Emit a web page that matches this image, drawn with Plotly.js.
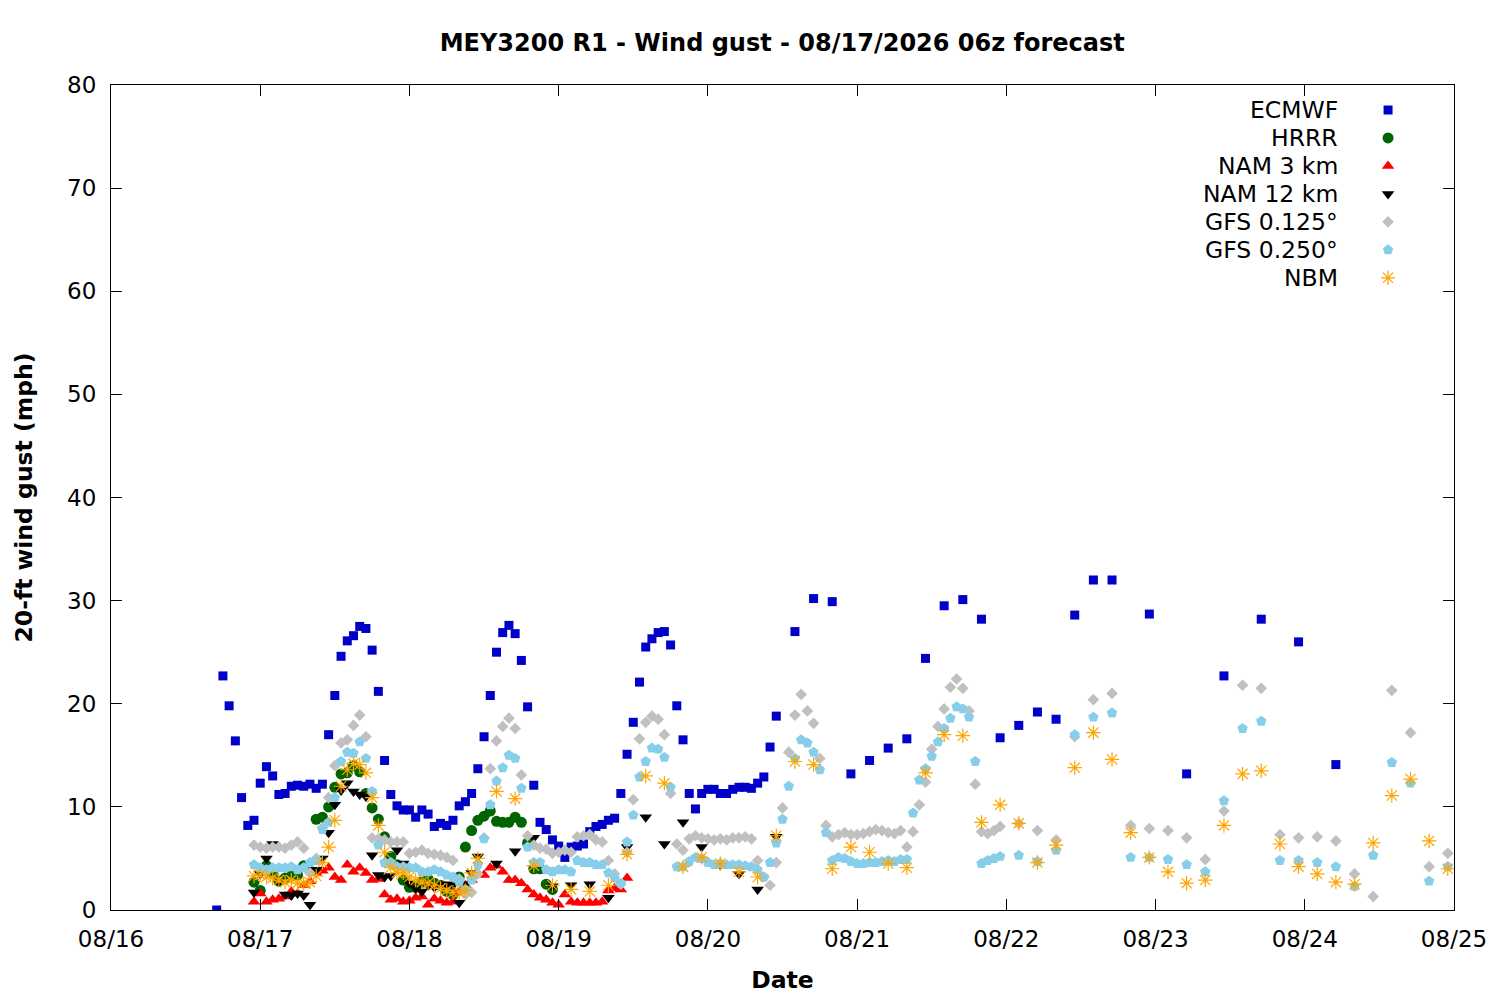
<!DOCTYPE html>
<html>
<head>
<meta charset="utf-8">
<script src="https://cdn.plot.ly/plotly-3.0.1.min.js"></script>
<style>
  body { margin: 0; background: #fff; }
  #chart { width: 1500px; height: 1000px; }
</style>
</head>
<body>
<div id="chart"></div>
<script>
// forecast hours are counted from 08/16 00:00
var baseDay = Date.UTC(2026, 7, 16);

var ecmwfHours = [17,18,19,20,21,22,23,24,25,26,27,28,29,30,31,32,33,34,35,36,37,38,39,40,41,42,43,44,45,46,
  47,48,49,50,51,52,53,54,55,56,57,58,59,60,61,62,63,64,65,66,67,68,69,70,71,72,73,74,75,76,
  77,78,79,80,81,82,83,84,85,86,87,88,89,90,91,92,93,94,95,96,97,98,99,100,101,102,103,104,105,106,107,
  110,113,116,119,122,125,128,131,134,137,140,143,146,149,152,155,158,161,167,173,179,185,191,197];
var ecmwfGust = [0,22.7,19.8,16.4,10.9,8.2,8.7,12.3,13.9,13.0,11.2,11.3,12.0,12.1,12.0,12.2,11.8,12.2,17.0,20.8,
  24.6,26.1,26.6,27.5,27.3,25.2,21.2,14.5,11.2,10.1,9.7,9.7,9.0,9.7,9.3,8.1,8.4,8.2,8.7,10.1,
  10.5,11.3,13.7,16.8,20.8,25.0,26.9,27.6,26.8,24.2,19.7,12.1,8.5,7.8,6.8,6.2,5.1,6.1,6.2,6.4,
  7.6,8.1,8.3,8.7,8.9,11.3,15.1,18.2,22.1,25.5,26.3,26.9,27.0,25.7,19.8,16.5,11.3,9.8,11.3,11.7,
  11.7,11.3,11.3,11.7,11.9,11.9,11.8,12.3,12.9,15.8,18.8,
  27.0,30.2,29.9,13.2,14.5,15.7,16.6,24.4,29.5,30.1,28.2,16.7,17.9,19.2,18.5,28.6,32.0,32.0,
  28.7,13.2,22.7,28.2,26.0,14.1];

var hrrrHours = [23,24,25,26,27,28,29,30,31,32,33,34,35,36,37,38,39,40,41,42,43,44,45,46,47,48,49,50,51,52,
  53,54,55,56,57,58,59,60,61,62,63,64,65,66,67,68,69,70,71];
var hrrrGust = [2.7,1.9,4.3,3.6,2.8,3.1,3.3,3.4,4.3,3.8,8.8,9.0,10.0,11.9,13.2,13.3,14.0,13.4,11.3,9.9,
  8.8,7.1,5.2,4.4,2.9,2.2,2.2,2.7,3.0,2.6,2.4,1.8,1.5,3.2,6.1,7.7,8.7,9.1,9.6,8.6,
  8.5,8.5,9.0,8.5,6.5,4.0,4.0,2.5,2.0];

var nam3Hours = [23,24,25,26,27,28,29,30,31,32,33,34,35,36,37,38,39,40,41,42,43,44,45,46,47,48,49,50,51,52,
  53,54,55,56,57,58,59,60,61,62,63,64,65,66,67,68,69,70,71,72,73,74,75,76,77,78,79,80,81,82,83];
var nam3Gust = [0.8,1.6,0.8,1.0,1.1,1.3,1.8,1.6,2.4,2.8,3.6,3.8,4.1,3.2,2.9,4.4,3.7,4.1,3.6,2.9,
  3.0,1.5,1.0,1.1,0.8,0.9,1.2,1.3,0.5,1.1,0.9,0.7,0.8,1.7,2.4,2.9,3.6,3.4,4.1,4.3,
  3.7,2.9,2.9,2.6,2.0,1.5,1.2,1.0,0.7,0.5,1.5,0.8,0.7,0.7,0.7,0.7,0.8,1.9,2.1,2.0,3.1];

var nam12Hours = [23,24,25,26,27,28,29,30,31,32,33,34,35,36,37,38,39,40,41,42,43,44,45,46,47,48,49,50,51,52,
  53,54,55,56,57,58,59,62,65,68,71,74,77,80,83,86,89,92,95,98,101,104,107];
var nam12Gust = [1.7,3.5,5.0,6.4,2.8,1.5,1.4,1.6,1.4,0.5,3.9,5.0,7.5,10.2,11.6,12.3,11.5,11.2,11.0,5.3,
  3.4,3.2,3.3,5.8,4.5,2.6,2.1,1.8,2.4,2.2,2.4,2.5,2.4,0.7,2.5,3.6,5.2,
  4.5,5.7,7.0,2.3,2.4,2.5,1.2,6.1,9.0,6.4,8.5,6.1,4.4,3.5,2.0,7.1];

var gfsHours = [23,24,25,26,27,28,29,30,31,32,33,34,35,36,37,38,39,40,41,42,43,44,45,46,47,48,49,50,51,52,
  53,54,55,56,57,58,59,60,61,62,63,64,65,66,67,68,69,70,71,72,73,74,75,76,77,78,79,80,81,82,
  83,84,85,86,87,88,89,90,91,92,93,94,95,96,97,98,99,100,101,102,103,104,105,106,107,108,109,110,111,112,
  113,114,115,116,117,118,119,120,121,122,123,124,125,126,127,128,129,130,131,132,133,134,135,136,137,138,139,140,141,142,143,
  146,149,152,155,158,161,164,167,170,173,176,179,182,185,188,191,194,197,200,203,206,209,212,215];
var gfs125Gust = [6.3,6.1,6.0,6.1,6.1,6.0,6.3,6.6,6.0,3.6,5.0,8.0,10.9,14.0,16.2,16.5,17.9,18.9,16.8,7.0,
  6.9,6.8,6.6,6.6,6.6,5.5,5.6,5.8,5.5,5.4,5.3,5.1,4.8,3.0,1.5,1.7,3.5,7.0,13.7,16.4,
  17.8,18.6,17.6,13.1,7.2,6.3,6.0,5.9,5.5,5.6,5.8,5.6,7.1,7.2,7.3,6.8,6.6,4.8,3.5,2.5,
  5.6,10.7,16.6,18.2,18.8,18.5,17.0,11.3,6.4,5.8,6.9,7.2,7.0,6.9,6.8,6.9,6.8,7.0,7.0,7.1,
  6.9,4.8,3.2,2.4,4.6,9.9,15.3,18.9,20.9,19.3,18.1,14.7,8.2,7.1,7.3,7.5,7.3,7.3,7.4,7.6,
  7.8,7.7,7.5,7.4,7.7,6.1,7.6,10.2,12.4,15.6,17.8,19.5,21.6,22.4,21.5,19.3,12.2,7.6,7.4,7.7,8.1,
  8.4,7.7,6.8,16.8,20.4,21.0,8.2,7.9,7.7,7.0,4.9,9.6,21.8,21.5,7.3,7.0,7.1,6.7,3.5,1.3,21.3,17.2,4.2,5.5];
var gfs250Gust = [4.4,4.1,3.9,4.1,4.1,4.1,4.2,3.9,4.1,4.6,4.8,7.8,8.5,10.9,14.4,15.3,15.2,16.3,14.7,11.5,
  6.3,4.6,4.6,4.2,4.2,4.1,4.1,3.7,3.7,3.9,3.7,3.4,3.2,2.7,2.0,2.9,4.4,6.9,10.2,12.5,
  13.8,15.0,14.7,11.8,6.1,4.6,4.6,3.9,3.7,3.9,3.9,3.7,4.8,4.6,4.6,4.4,4.4,3.6,3.1,2.6,
  6.6,9.2,12.9,14.4,15.7,15.6,14.8,11.9,4.2,4.2,4.7,5.1,5.0,4.6,4.4,4.5,4.4,4.4,4.4,4.3,
  4.2,3.9,3.2,4.6,6.5,8.8,12.0,14.7,16.5,16.2,15.3,13.6,7.5,4.8,5.1,5.0,4.7,4.5,4.5,4.6,
  4.6,4.7,4.8,4.7,4.9,4.9,9.4,12.6,13.7,14.9,16.3,17.6,18.6,19.7,19.5,18.7,14.4,4.5,4.8,5.0,5.2,
  5.3,4.7,5.8,17.0,18.7,19.1,5.1,5.1,4.9,4.4,3.7,10.6,17.6,18.3,4.8,4.8,4.6,4.2,2.3,5.3,14.3,12.3,2.8,4.2];

var nbmHours = [23,24,25,26,27,28,29,30,31,32,33,34,35,36,37,38,39,40,41,42,43,44,45,46,47,48,49,50,51,52,
  53,54,55,56,57,58,59,62,65,68,71,74,77,80,83,86,89,92,95,98,101,104,107,110,113,116,119,122,125,128,
  131,134,137,140,143,146,149,152,155,158,161,164,167,170,173,176,179,182,185,188,191,194,197,200,203,206,209,212,215];
var nbmGust = [3.3,3.4,3.2,3.1,2.9,2.7,2.9,2.6,2.6,2.7,3.3,4.6,6.1,8.7,12.0,13.6,14.2,14.1,13.3,10.9,
  8.2,5.6,4.1,3.6,3.6,3.2,2.9,2.7,2.6,2.4,2.1,1.9,1.7,1.7,1.9,3.6,5.0,
  11.5,10.8,4.3,2.4,2.0,1.8,2.4,5.4,13.0,12.3,4.2,5.1,4.5,3.7,3.2,7.2,14.4,14.1,4.0,6.1,5.6,4.5,4.1,
  13.3,17.0,16.9,8.5,10.2,8.4,4.6,6.3,13.8,17.2,14.6,7.5,5.1,3.7,2.6,2.9,8.2,13.2,13.5,6.4,4.2,3.5,2.7,2.5,6.5,11.1,12.7,6.7,4.0];

var modelNames = ['ECMWF', 'HRRR', 'NAM 3 km', 'NAM 12 km', 'GFS 0.125°', 'GFS 0.250°', 'NBM'];
var modelSymbols = ['square', 'circle', 'triangle-up', 'triangle-down', 'diamond', 'pentagon', 'asterisk-open'];
var modelColors = ['#0000c8', '#006400', '#ff0000', '#000000', '#c0c0c0', '#87ceeb', '#ffa500'];
var markerSizes = [9, 11, 11, 11, 9, 11, 12];

function toDate(h) {
  var d = new Date(baseDay + h * 3600000);
  return d.toISOString().slice(0, 16).replace('T', ' ');
}

function markerStyle(i, size) {
  var open = modelSymbols[i] == 'asterisk-open';
  return { symbol: modelSymbols[i], color: modelColors[i], size: size,
           line: { width: open ? 1.2 : 0, color: modelColors[i] } };
}

function series(i, hours, gust) {
  return {
    type: 'scatter', mode: 'markers', name: modelNames[i],
    x: hours.map(toDate), y: gust,
    marker: markerStyle(i, markerSizes[i]),
    hoverinfo: 'skip', showlegend: false
  };
}

var data = [
  series(0, ecmwfHours, ecmwfGust),
  series(1, hrrrHours, hrrrGust),
  series(2, nam3Hours, nam3Gust),
  series(3, nam12Hours, nam12Gust),
  series(4, gfsHours, gfs125Gust),
  series(5, gfsHours, gfs250Gust),
  series(6, nbmHours, nbmGust)
];

// gnuplot style key: right aligned label, sample point to its right
var keyTop = 0.9697, keyStep = 0.0339, keyTextX = 0.9151, keySymX = 0.9509;
var annotations = [];
modelNames.forEach(function (name, i) {
  annotations.push({
    xref: 'paper', yref: 'paper', x: keyTextX, y: keyTop - i * keyStep,
    xanchor: 'right', yanchor: 'middle', showarrow: false, text: name,
    font: { family: 'DejaVu Sans', size: 23.5, color: '#000' }
  });
  data.push({
    type: 'scatter', mode: 'markers', xaxis: 'x2', yaxis: 'y2',
    x: [keySymX], y: [keyTop - i * keyStep],
    marker: markerStyle(i, markerSizes[i]),
    hoverinfo: 'skip', showlegend: false
  });
});

var tickFont = { family: 'DejaVu Sans', size: 23, color: '#000' };

var layout = {
  width: 1500,
  height: 1000,
  margin: { l: 111, r: 46, t: 85, b: 90 },
  paper_bgcolor: '#fff',
  plot_bgcolor: '#fff',
  font: { family: 'DejaVu Sans', color: '#000' },
  title: {
    text: '<b>MEY3200 R1 - Wind gust - 08/17/2026 06z forecast</b>',
    font: { family: 'DejaVu Sans', size: 24 },
    x: 0.5215, xanchor: 'center', y: 0.957, yanchor: 'middle'
  },
  xaxis: {
    type: 'date',
    range: ['2026-08-16', '2026-08-25'],
    tick0: '2026-08-16',
    dtick: 86400000,
    tickformat: '%m/%d',
    ticks: 'inside', ticklen: 11, tickwidth: 1, tickcolor: '#000',
    showline: true, linecolor: '#000', linewidth: 1, mirror: 'ticks',
    showgrid: false, zeroline: false,
    tickfont: tickFont,
    ticklabelstandoff: 8,
    title: { text: '<b>Date</b>', font: { family: 'DejaVu Sans', size: 23.5 }, standoff: 20 }
  },
  yaxis: {
    range: [0, 80],
    dtick: 10,
    ticks: 'inside', ticklen: 11, tickwidth: 1, tickcolor: '#000',
    showline: true, linecolor: '#000', linewidth: 1, mirror: 'ticks',
    showgrid: false, zeroline: false,
    tickfont: tickFont,
    ticklabelstandoff: 9,
    title: { text: '<b>20-ft wind gust (mph)</b>', font: { family: 'DejaVu Sans', size: 23.5 }, standoff: 27 }
  },
  xaxis2: { overlaying: 'x', anchor: 'y2', range: [0, 1], visible: false, fixedrange: true },
  yaxis2: { overlaying: 'y', anchor: 'x2', range: [0, 1], visible: false, fixedrange: true },
  annotations: annotations,
  showlegend: false
};

Plotly.newPlot('chart', data, layout, { displayModeBar: false, staticPlot: true });
</script>
</body>
</html>
